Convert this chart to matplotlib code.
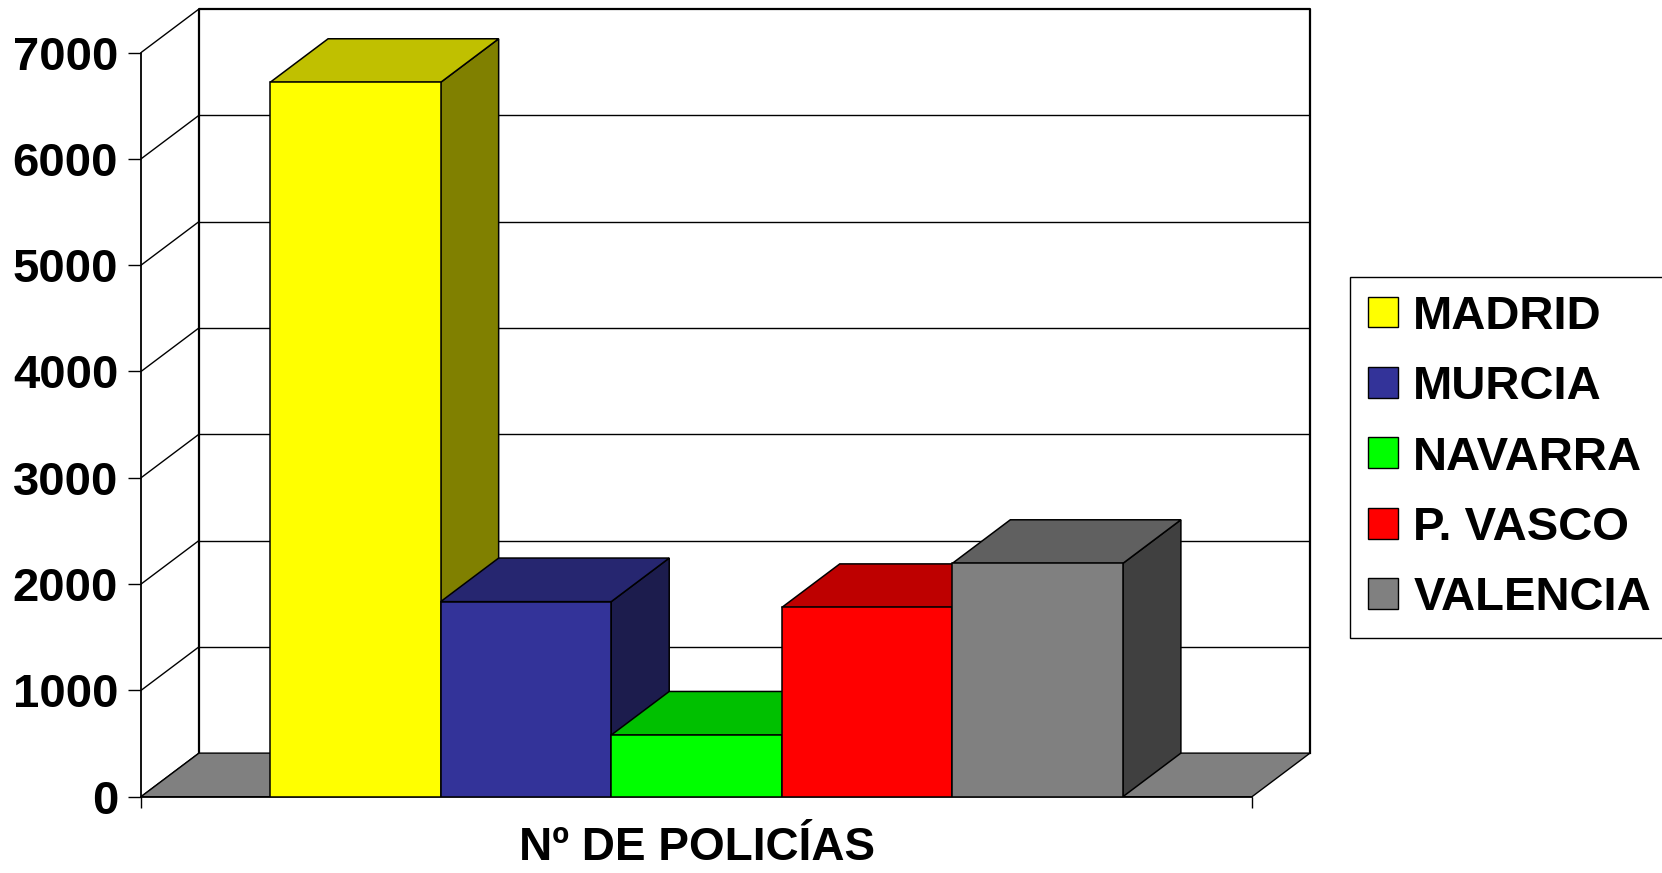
import matplotlib
matplotlib.use('Agg')
import matplotlib.pyplot as plt
from matplotlib.patches import Polygon, Patch

plt.rcParams['font.family'] = ['Liberation Sans', 'DejaVu Sans']
plt.rcParams['font.weight'] = 'bold'

# data
regions = ['MADRID', 'MURCIA', 'NAVARRA', 'P. VASCO', 'VALENCIA']
policias = [6720, 1835, 580, 1780, 2195]
front_colors = ['#FFFF00', '#333399', '#00FF00', '#FF0000', '#808080']
top_colors = ['#C0C000', '#262670', '#00C000', '#BE0000', '#606060']
side_colors = ['#808000', '#1C1C4D', '#008000', '#800000', '#404040']
yticks = [0, 1000, 2000, 3000, 4000, 5000, 6000, 7000]
xlabel = 'Nº DE POLICÍAS'

# fake 3d geometry (category units / value units)
gap = 0.757
W = 2 * gap + len(regions)
dx, dy = 0.34, 410
ymax = yticks[-1]

fig = plt.figure(figsize=(16.62, 8.73), dpi=100)
ax = fig.add_axes([141 / 1662, 76.3 / 873, 1169 / 1662, 787.7 / 873])
ax.set_xlim(0, W + dx)
ax.set_ylim(0, ymax + dy)

for s in ['top', 'right']:
    ax.spines[s].set_visible(False)
ax.spines['left'].set_bounds(0, ymax)
ax.spines['bottom'].set_bounds(0, W)
ax.spines['left'].set_linewidth(1.3)
ax.spines['bottom'].set_linewidth(1.3)
ax.set_yticks(yticks)
ax.set_yticklabels([str(v) for v in yticks])
ax.set_xticks([0, W])
ax.set_xticklabels(['', ''])
ax.tick_params(axis='y', direction='out', length=9.4, width=1, pad=7,
               labelsize=34)
ax.tick_params(axis='x', direction='out', length=8, width=1)

# left wall and back wall
for v in yticks:
    ax.plot([0, dx], [v, v + dy], color='black', lw=1, zorder=1)
for v in yticks[1:-1]:
    ax.plot([dx, W + dx], [v + dy, v + dy], color='black', lw=1, zorder=1)
ax.plot([dx, dx, W + dx, W + dx], [dy, ymax + dy, ymax + dy, dy],
        color='black', lw=1.6, zorder=1, clip_on=False)

# floor
ax.add_patch(Polygon([(0, 0), (W, 0), (W + dx, dy), (dx, dy)],
                     closed=True, facecolor='#808080', edgecolor='black',
                     lw=1, zorder=2))

# bars: side, top, front, left to right
for i, (h, fc, tc, sc) in enumerate(zip(policias, front_colors,
                                        top_colors, side_colors)):
    x0 = gap + i
    x1 = x0 + 1
    z = 3 + 3 * i
    ax.add_patch(Polygon([(x1, 0), (x1 + dx, dy), (x1 + dx, h + dy), (x1, h)],
                         closed=True, facecolor=sc, edgecolor='black',
                         lw=1.1, zorder=z))
    ax.add_patch(Polygon([(x0, h), (x1, h), (x1 + dx, h + dy), (x0 + dx, h + dy)],
                         closed=True, facecolor=tc, edgecolor='black',
                         lw=1.1, zorder=z + 1))
    ax.bar(x0, h, width=1, align='edge', color=fc, edgecolor='black',
           lw=1.1, zorder=z + 2)

ax.set_xlabel(xlabel, fontsize=33, fontweight='bold', va='baseline')
ax.xaxis.set_label_coords((W / 2) / (W + dx), (796.7 - 860) / 787.7)

handles = [Patch(facecolor=c, edgecolor='black', lw=1) for c in front_colors]
leg = fig.legend(handles, regions, loc='upper left',
                 bbox_to_anchor=(1350 / 1662, 1 - 276.7 / 873),
                 borderaxespad=0, prop={'weight': 'bold', 'size': 34},
                 handlelength=0.63, handleheight=0.63, handletextpad=0.33,
                 labelspacing=0.56, borderpad=0.38, fancybox=False,
                 framealpha=1, edgecolor='black')
leg.get_frame().set_linewidth(1)

fig.savefig('out.png', dpi=100)
